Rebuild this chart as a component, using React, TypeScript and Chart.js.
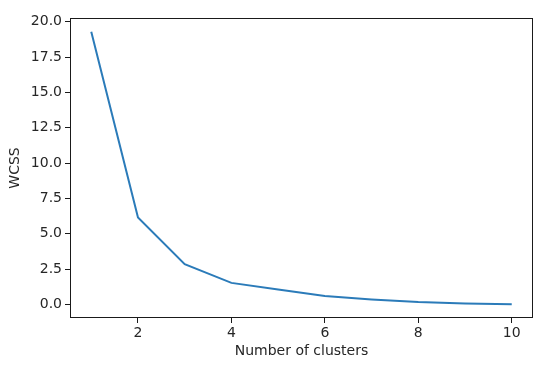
import React, { useEffect, useRef } from "react";
import { Chart, registerables } from "chart.js";

Chart.register(...registerables);

const clusters = [1, 2, 3, 4, 5, 6, 7, 8, 9, 10];
const wcss = [19.3, 6.15, 2.85, 1.52, 1.05, 0.6, 0.35, 0.17, 0.07, 0.0];
const xTicks = [2, 4, 6, 8, 10];
const yTicks = [0, 2.5, 5, 7.5, 10, 12.5, 15, 17.5, 20];

const FONT = "'DejaVu Sans', sans-serif";
const TEXT = "#262626";

const framePlugin = {
  id: "frame",
  afterDraw(chart: any) {
    const { ctx, chartArea } = chart;
    const l = Math.round(chartArea.left);
    const t = Math.round(chartArea.top);
    const r = Math.round(chartArea.right);
    const b = Math.round(chartArea.bottom);
    ctx.save();
    ctx.strokeStyle = "#1a1a1a";
    ctx.lineWidth = 1;
    ctx.strokeRect(l + 0.5, t + 0.5, r - l - 1, b - t - 1);
    ctx.restore();
  },
};

export default function App() {
  const ref = useRef<HTMLCanvasElement | null>(null);

  useEffect(() => {
    if (!ref.current) return;
    const chart = new Chart(ref.current, {
      type: "line",
      data: {
        datasets: [
          {
            data: clusters.map((c, i) => ({ x: c, y: wcss[i] })),
            borderColor: "#2b7bb9",
            borderWidth: 2,
            pointRadius: 0,
            tension: 0,
            fill: false,
          },
        ],
      },
      plugins: [framePlugin],
      options: {
        animation: false,
        responsive: false,
        maintainAspectRatio: false,
        layout: { padding: { left: 0, top: 18, right: 17, bottom: 0 } },
        plugins: { legend: { display: false }, tooltip: { enabled: false } },
        scales: {
          x: {
            type: "linear",
            min: 0.545,
            max: 10.455,
            afterBuildTicks: (s: any) => {
              s.ticks = xTicks.map((v) => ({ value: v }));
            },
            afterFit: (s: any) => {
              s.height = 48;
            },
            grid: {
              drawOnChartArea: false,
              tickLength: 5,
              tickColor: "#1a1a1a",
              color: "#1a1a1a",
            },
            border: { display: false },
            ticks: {
              color: TEXT,
              font: { family: FONT, size: 14 },
              padding: 2,
              maxRotation: 0,
              callback: (v: any) => String(v),
            },
            title: {
              display: true,
              text: "Number of clusters",
              color: TEXT,
              font: { family: FONT, size: 14 },
              padding: { top: 0, bottom: 6 },
            },
          },
          y: {
            type: "linear",
            min: -0.965,
            max: 20.27,
            afterBuildTicks: (s: any) => {
              s.ticks = yTicks.map((v) => ({ value: v }));
            },
            afterFit: (s: any) => {
              s.width = 70;
            },
            grid: {
              drawOnChartArea: false,
              tickLength: 5,
              tickColor: "#1a1a1a",
              color: "#1a1a1a",
            },
            border: { display: false },
            ticks: {
              color: TEXT,
              font: { family: FONT, size: 14 },
              padding: 3,
              callback: (v: any) => Number(v).toFixed(1),
            },
            title: {
              display: true,
              text: "WCSS",
              color: TEXT,
              font: { family: FONT, size: 14 },
              padding: { top: 7, bottom: 0 },
            },
          },
        },
      },
    });
    return () => chart.destroy();
  }, []);

  return (
    <div
      style={{
        position: "fixed",
        left: 0,
        top: 0,
        width: 550,
        height: 366,
        background: "#fff",
      }}
    >
      <canvas ref={ref} width={550} height={366} style={{ display: "block" }} />
    </div>
  );
}
